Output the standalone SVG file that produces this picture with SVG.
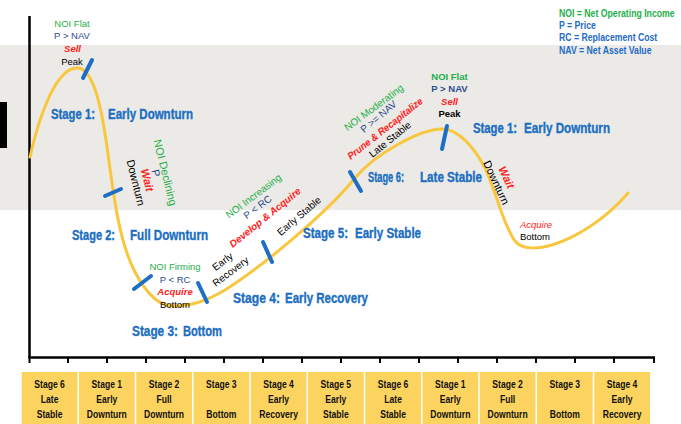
<svg xmlns="http://www.w3.org/2000/svg" width="681" height="424" viewBox="0 0 681 424">
<style>
text{font-family:"Liberation Sans",Arial,sans-serif}
.stage{font-size:14px;font-weight:bold;fill:#1B6EC2;stroke:#1B6EC2;stroke-width:0.35}
.ann{font-size:9.5px;text-anchor:middle}
.annb{font-size:9.5px;text-anchor:middle;font-weight:bold}
.rot{font-size:10px;text-anchor:middle}
.rot11{font-size:11px;text-anchor:middle}
.g{fill:#1FAF4B}
.n{fill:#2D4C8C}
.r{fill:#FF2222;font-weight:bold;font-style:italic}
.ri{fill:#FF2222;font-style:italic}
.k{fill:#000}
.box{fill:#FCD35F}
.bt{font-size:11px;font-weight:bold;text-anchor:middle;fill:#111}
.tick{stroke:#1E6FC4;stroke-width:4;stroke-linecap:round}
.leg{font-size:10px;font-weight:bold}
.axis{stroke:#000;fill:none}
</style>

<!-- background and shaded band -->
<rect x="0" y="0" width="681" height="424" fill="#fff"/>
<rect id="band" x="0" y="45" width="681" height="165" fill="#ECEAE6"/>
<rect id="edge-bar" x="0" y="102" width="7" height="46" fill="#000"/>

<!-- axes -->
<g id="axes" class="axis">
  <line x1="29.5" y1="16" x2="29.5" y2="358" stroke-width="2.5"/>
  <line x1="28.5" y1="357.5" x2="655" y2="357.5" stroke-width="2.5"/>
  <path stroke-width="2" d="M29.5,358v5 M68,358v5 M107,358v5 M146,358v5 M185,358v5 M224,358v5 M263,358v5 M302,358v5 M341,358v5 M380,358v5 M419,358v5 M458,358v5 M497,358v5 M536,358v5 M575,358v5 M614,358v5 M654,358v5"/>
</g>

<!-- cycle curve -->
<g id="connectors">
  <path id="cycle" fill="none" stroke="#F8C73F" stroke-width="3" stroke-linecap="round"
    d="M30,157 C40,112 57,68 77,68 C92,68 100,100 106,140 C112,180 117,238 135,272 C146,293 158,306 173,306 C190,306 205,302 225,290 C260,268 325,215 355,178 C375,154 420,129 442,129 C457,129 473,145 485,168 C495,188 503,225 515,241 C522,250 538,249 552,245 C575,238 605,220 628,193"/>
  <!-- stage boundary marks -->
  <line class="tick" x1="92" y1="60" x2="83" y2="78"/>
  <line class="tick" x1="105" y1="196" x2="121" y2="189"/>
  <line class="tick" x1="134" y1="289" x2="151" y2="276"/>
  <line class="tick" x1="198" y1="283" x2="207" y2="302"/>
  <line class="tick" x1="263" y1="242" x2="272" y2="262"/>
  <line class="tick" x1="350" y1="172" x2="361" y2="191"/>
  <line class="tick" x1="447" y1="126" x2="442" y2="149"/>
</g>

<!-- stage titles -->
<g id="stage-titles" class="stage">
  <text x="51" y="119" textLength="44" lengthAdjust="spacingAndGlyphs">Stage 1:</text>
  <text x="108" y="119" textLength="85" lengthAdjust="spacingAndGlyphs">Early Downturn</text>
  <text x="72" y="240" textLength="43" lengthAdjust="spacingAndGlyphs">Stage 2:</text>
  <text x="130" y="240" textLength="78" lengthAdjust="spacingAndGlyphs">Full Downturn</text>
  <text x="132" y="336" textLength="46" lengthAdjust="spacingAndGlyphs">Stage 3:</text>
  <text x="183" y="336" textLength="39" lengthAdjust="spacingAndGlyphs">Bottom</text>
  <text x="233" y="303" textLength="47" lengthAdjust="spacingAndGlyphs">Stage 4:</text>
  <text x="285" y="303" textLength="83" lengthAdjust="spacingAndGlyphs">Early Recovery</text>
  <text x="303" y="238" textLength="45" lengthAdjust="spacingAndGlyphs">Stage 5:</text>
  <text x="355" y="238" textLength="66" lengthAdjust="spacingAndGlyphs">Early Stable</text>
  <text x="368" y="182" textLength="36" lengthAdjust="spacingAndGlyphs">Stage 6:</text>
  <text x="420" y="182" textLength="62" lengthAdjust="spacingAndGlyphs">Late Stable</text>
  <text x="473" y="133" textLength="44" lengthAdjust="spacingAndGlyphs">Stage 1:</text>
  <text x="524" y="133" textLength="86" lengthAdjust="spacingAndGlyphs">Early Downturn</text>
</g>

<!-- peak (left) -->
<g id="peak-left">
  <text class="ann g" x="72" y="26.5">NOI Flat</text>
  <text class="ann n" x="72" y="38.5">P &gt; NAV</text>
  <text class="ann r" x="72.5" y="51.5">Sell</text>
  <text class="ann k" x="72" y="64.5">Peak</text>
</g>

<!-- full downturn -->
<g id="downturn-left">
  <text class="rot11 g" transform="translate(165.5,172.5) rotate(76)" y="4">NOI Declining</text>
  <text class="rot11 n" transform="translate(156,173) rotate(76)" y="4">P</text>
  <text class="rot11 r" transform="translate(147.5,180) rotate(76)" y="4">Wait</text>
  <text class="rot11 k" transform="translate(136,182.5) rotate(76)" y="4">Downturn</text>
</g>

<!-- bottom (left) -->
<g id="bottom-left">
  <text class="ann g" x="175" y="269.5">NOI Firming</text>
  <text class="ann n" x="175" y="282.5">P &lt; RC</text>
  <text class="ann r" x="175" y="295">Acquire</text>
  <text class="ann k" x="175" y="307.5">Bottom</text>
</g>

<!-- early recovery -->
<g id="recovery">
  <text class="rot k" transform="translate(222.5,261.5) rotate(-37)" y="3.5">Early</text>
  <text class="rot k" transform="translate(230.5,271.5) rotate(-37)" y="3.5">Recovery</text>
</g>

<!-- early stable -->
<g id="early-stable">
  <text class="rot g" transform="translate(253.5,196) rotate(-37)" y="3.5">NOI Increasing</text>
  <text class="rot n" transform="translate(257.5,207) rotate(-37)" y="3.5">P &lt; RC</text>
  <text class="rot r" transform="translate(265,217.5) rotate(-39)" y="3.5">Develop &amp; Acquire</text>
  <text class="rot k" transform="translate(299,216) rotate(-40.5)" y="3.5">Early Stable</text>
</g>

<!-- late stable -->
<g id="late-stable">
  <text class="rot g" transform="translate(373.7,107.5) rotate(-36.6)" y="3.5">NOI Moderating</text>
  <text class="rot n" transform="translate(378.5,116.5) rotate(-40)" y="3.5">P &gt;= NAV</text>
  <text class="rot r" transform="translate(385,128.5) rotate(-38.3)" y="3.5" font-size="9.5" textLength="93" lengthAdjust="spacingAndGlyphs">Prune &amp; Recapitalize</text>
  <text class="rot k" transform="translate(390,139.3) rotate(-38.9)" y="3.5">Late Stable</text>
</g>

<!-- peak (right) -->
<g id="peak-right">
  <text class="annb g" x="449.5" y="79.5">NOI Flat</text>
  <text class="annb n" x="449.5" y="91.5">P &gt; NAV</text>
  <text class="annb r" x="449.5" y="105">Sell</text>
  <text class="annb k" x="449.5" y="116.5">Peak</text>
</g>

<!-- downturn (right) -->
<g id="downturn-right">
  <text class="rot11 r" transform="translate(506.7,177.3) rotate(65)" y="4">Wait</text>
  <text class="rot11 k" transform="translate(496.5,182.5) rotate(65)" y="4">Downturn</text>
</g>

<!-- bottom (right) -->
<g id="bottom-right">
  <text class="ann ri" x="536" y="227.5">Acquire</text>
  <text class="ann k" x="535" y="239.5">Bottom</text>
</g>

<!-- key, set in a horizontally condensed frame -->
<g id="legend" class="leg" transform="translate(559,0) scale(0.87 1)">
  <text x="0" y="17" fill="#1FAF4B">NOI = Net Operating Income</text>
  <text x="0" y="29" fill="#1E6CC8">P = Price</text>
  <text x="0" y="41" fill="#1E6CC8">RC = Replacement Cost</text>
  <text x="0" y="54" fill="#1E6CC8">NAV = Net Asset Value</text>
</g>

<!-- stage strip -->
<g id="stage-strip">
  <g class="box">
    <rect x="21.75" y="372" width="55.75" height="52"/>
    <rect x="79" y="372" width="55.75" height="52"/>
    <rect x="136.25" y="372" width="55.75" height="52"/>
    <rect x="193.5" y="372" width="55.75" height="52"/>
    <rect x="250.75" y="372" width="55.75" height="52"/>
    <rect x="308" y="372" width="55.75" height="52"/>
    <rect x="365.25" y="372" width="55.75" height="52"/>
    <rect x="422.5" y="372" width="55.75" height="52"/>
    <rect x="479.75" y="372" width="55.75" height="52"/>
    <rect x="537" y="372" width="55.75" height="52"/>
    <rect x="594.25" y="372" width="55.75" height="52"/>
  </g>
  <g class="bt" transform="scale(0.78 1)">
    <text x="63.6" y="388">Stage 6</text><text x="63.6" y="403">Late</text><text x="63.6" y="418">Stable</text>
    <text x="137" y="388">Stage 1</text><text x="137" y="403">Early</text><text x="137" y="418">Downturn</text>
    <text x="210.4" y="388">Stage 2</text><text x="210.4" y="403">Full</text><text x="210.4" y="418">Downturn</text>
    <text x="283.8" y="388">Stage 3</text><text x="283.8" y="418">Bottom</text>
    <text x="357.2" y="388">Stage 4</text><text x="357.2" y="403">Early</text><text x="357.2" y="418">Recovery</text>
    <text x="430.6" y="388">Stage 5</text><text x="430.6" y="403">Early</text><text x="430.6" y="418">Stable</text>
    <text x="504" y="388">Stage 6</text><text x="504" y="403">Late</text><text x="504" y="418">Stable</text>
    <text x="577.4" y="388">Stage 1</text><text x="577.4" y="403">Early</text><text x="577.4" y="418">Downturn</text>
    <text x="650.8" y="388">Stage 2</text><text x="650.8" y="403">Full</text><text x="650.8" y="418">Downturn</text>
    <text x="724.2" y="388">Stage 3</text><text x="724.2" y="418">Bottom</text>
    <text x="797.6" y="388">Stage 4</text><text x="797.6" y="403">Early</text><text x="797.6" y="418">Recovery</text>
  </g>
</g>
</svg>
